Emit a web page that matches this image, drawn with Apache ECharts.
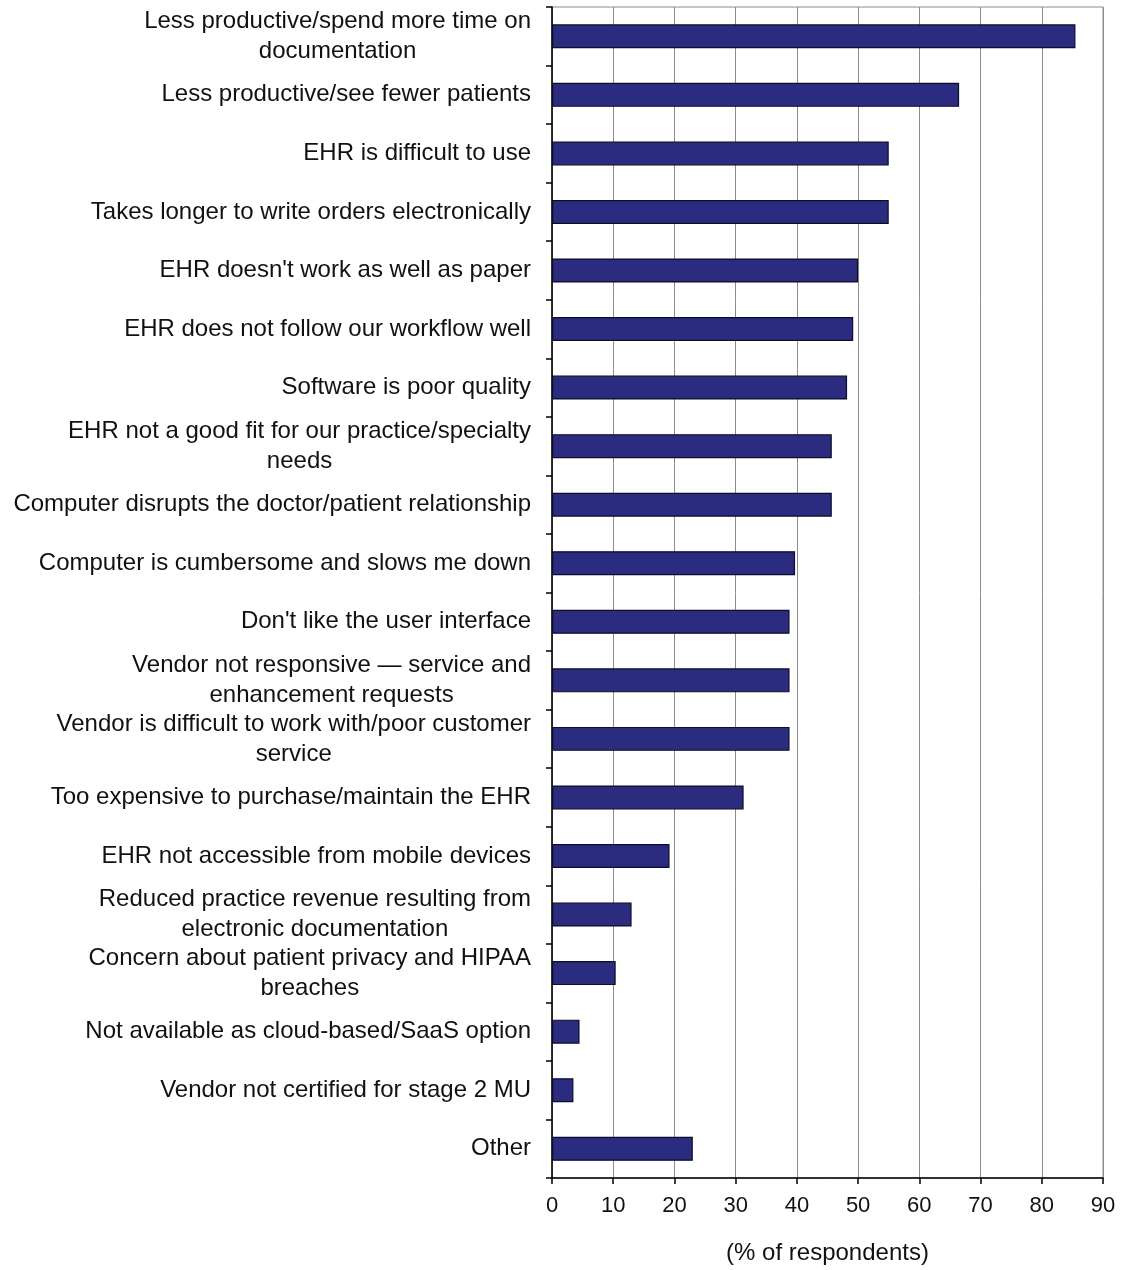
<!DOCTYPE html>
<html>
<head>
<meta charset="utf-8">
<script src="https://cdn.jsdelivr.net/npm/echarts@6/dist/echarts.min.js"></script>
<style>
  html, body { margin: 0; padding: 0; background: #ffffff; }
  #chart { width: 1123px; height: 1270px; }
</style>
</head>
<body>
<div id="chart"></div>
<script>
const categories = [
  "Less productive/spend more time on\ndocumentation",
  "Less productive/see fewer patients",
  "EHR is difficult to use",
  "Takes longer to write orders electronically",
  "EHR doesn't work as well as paper",
  "EHR does not follow our workflow well",
  "Software is poor quality",
  "EHR not a good fit for our practice/specialty\nneeds",
  "Computer disrupts the doctor/patient relationship",
  "Computer is cumbersome and slows me down",
  "Don't like the user interface",
  "Vendor not responsive \u2014 service and\nenhancement requests",
  "Vendor is difficult to work with/poor customer\nservice",
  "Too expensive to purchase/maintain the EHR",
  "EHR not accessible from mobile devices",
  "Reduced practice revenue resulting from\nelectronic documentation",
  "Concern about patient privacy and HIPAA\nbreaches",
  "Not available as cloud-based/SaaS option",
  "Vendor not certified for stage 2 MU",
  "Other"
];
const values = [85.5, 66.5, 55, 55, 50, 49.2, 48.2, 45.7, 45.7, 39.7, 38.8, 38.8, 38.8, 31.3, 19.2, 13, 10.4, 4.5, 3.5, 23];
const xTicks = { min: 0, max: 90, interval: 10 };
const xAxisTitle = "(% of respondents)";

const FONT = "'Liberation Sans', Arial, sans-serif";
const chart = echarts.init(document.getElementById('chart'), null, { renderer: 'canvas' });
chart.setOption({
  backgroundColor: '#ffffff',
  animation: false,
  grid: {
    left: 552, right: 20, top: 7, bottom: 91,
    show: true, borderColor: '#8c8c8c', borderWidth: 1, backgroundColor: 'transparent'
  },
  xAxis: {
    type: 'value',
    min: xTicks.min, max: xTicks.max, interval: xTicks.interval,
    name: xAxisTitle,
    nameLocation: 'middle',
    nameGap: 63,
    nameTextStyle: { fontFamily: FONT, fontSize: 24, color: '#111' },
    axisLine: { show: true, lineStyle: { color: '#000', width: 1.5 } },
    axisTick: { show: true, length: 6, lineStyle: { color: '#000', width: 1.5 } },
    axisLabel: { fontFamily: FONT, fontSize: 22, color: '#111', margin: 17 },
    splitLine: { show: true, lineStyle: { color: '#8c8c8c', width: 1 } }
  },
  yAxis: {
    type: 'category',
    data: categories,
    inverse: true,
    axisLine: { show: true, lineStyle: { color: '#000', width: 1.5 } },
    axisTick: { show: true, length: 6, lineStyle: { color: '#000', width: 1.5 } },
    splitLine: { show: false },
    axisLabel: {
      margin: 21,
      interval: 0,
      align: 'right',
      formatter: function (v) {
        return v.split('\n').map(function (s) { return '{c|' + s + '}'; }).join('\n');
      },
      rich: {
        c: { fontFamily: FONT, fontSize: 24, color: '#111', align: 'center', lineHeight: 30 }
      }
    }
  },
  series: [{
    type: 'bar',
    data: values,
    barWidth: 24,
    itemStyle: { color: '#2b2c80', borderColor: '#0d0d26', borderWidth: 1.2 }
  }]
});
</script>
</body>
</html>
